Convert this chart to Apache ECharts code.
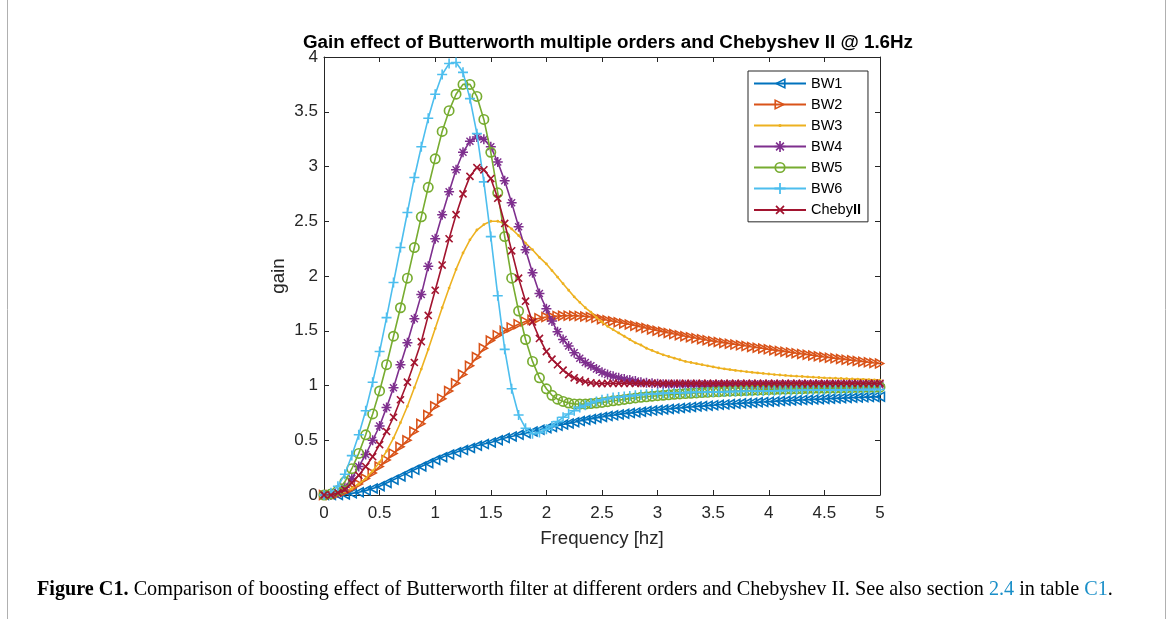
<!DOCTYPE html>
<html><head><meta charset="utf-8">
<script src="https://cdn.jsdelivr.net/npm/echarts@6/dist/echarts.min.js"></script>
<style>html,body{margin:0;padding:0;background:#fff;}#c{width:1173px;height:619px;}</style>
</head><body><div id="c"></div>
<script>
const freq = [0,0.0625,0.125,0.1875,0.25,0.3125,0.375,0.4375,0.5,0.5625,0.625,0.6875,0.75,0.8125,0.875,0.9375,1,1.0625,1.125,1.1875,1.25,1.3125,1.375,1.4375,1.5,1.5625,1.625,1.6875,1.75,1.8125,1.875,1.9375,2,
2.05,2.1,2.15,2.2,2.25,2.3,2.35,2.4,2.45,2.5,2.55,2.6,2.65,2.7,2.75,2.8,2.85,2.9,2.95,3,3.05,3.1,3.15,3.2,3.25,3.3,3.35,3.4,3.45,3.5,3.55,3.6,3.65,3.7,3.75,3.8,3.85,3.9,3.95,4,4.05,4.1,4.15,4.2,4.25,4.3,4.35,4.4,4.45,4.5,4.55,4.6,4.65,4.7,4.75,4.8,4.85,4.9,4.95,5];

const bw1 = [0,0,0,0.005,0.015,0.025,0.04,0.06,0.08,0.11,0.14,0.17,0.2,0.23,0.26,0.29,0.32,0.345,0.37,0.39,0.41,0.43,0.45,0.465,0.48,0.5,0.52,0.535,0.55,0.565,0.58,0.595,0.61,
0.62,0.632,0.643,0.654,0.665,0.675,0.685,0.695,0.704,0.713,0.721,0.728,0.735,0.742,0.748,0.754,0.76,0.766,0.771,0.776,0.781,0.786,0.791,0.795,0.8,0.804,0.808,0.812,0.816,0.82,0.824,0.827,0.831,0.834,0.837,0.84,0.843,0.846,0.849,0.852,0.855,0.858,0.86,0.863,0.865,0.868,0.87,0.873,0.875,0.877,0.88,0.882,0.884,0.886,0.888,0.89,0.892,0.894,0.896,0.898];

const bw2 = [0,0,0.01,0.03,0.06,0.1,0.15,0.2,0.26,0.32,0.38,0.44,0.5,0.58,0.65,0.73,0.81,0.88,0.95,1.02,1.1,1.18,1.26,1.34,1.41,1.46,1.5,1.53,1.56,1.585,1.6,1.615,1.625,
1.63,1.635,1.637,1.638,1.637,1.635,1.63,1.625,1.618,1.605,1.596,1.587,1.577,1.567,1.557,1.546,1.535,1.524,1.512,1.5,1.49,1.48,1.47,1.46,1.45,1.441,1.432,1.423,1.414,1.405,1.397,1.389,1.381,1.374,1.367,1.36,1.352,1.345,1.338,1.33,1.323,1.316,1.309,1.302,1.295,1.288,1.281,1.274,1.267,1.26,1.254,1.248,1.242,1.236,1.23,1.224,1.218,1.212,1.206,1.2];

const bw3 = [0,0,0.01,0.03,0.06,0.1,0.15,0.22,0.3,0.4,0.52,0.66,0.81,0.98,1.15,1.33,1.52,1.71,1.89,2.06,2.21,2.33,2.42,2.47,2.5,2.5,2.48,2.43,2.37,2.3,2.24,2.17,2.11,
2.05,1.99,1.93,1.87,1.81,1.76,1.71,1.67,1.62,1.58,1.54,1.51,1.48,1.45,1.42,1.39,1.37,1.34,1.32,1.3,1.28,1.265,1.25,1.235,1.22,1.21,1.2,1.19,1.18,1.17,1.16,1.152,1.145,1.138,1.132,1.126,1.12,1.115,1.11,1.105,1.1,1.096,1.092,1.088,1.085,1.082,1.079,1.076,1.073,1.07,1.068,1.066,1.064,1.062,1.06,1.058,1.056,1.054,1.052,1.05];

const bw4 = [0,0,0.02,0.07,0.15,0.26,0.37,0.5,0.63,0.8,0.98,1.19,1.39,1.61,1.83,2.09,2.34,2.56,2.77,2.97,3.13,3.23,3.27,3.25,3.18,3.04,2.87,2.67,2.45,2.24,2.03,1.84,1.7,
1.59,1.49,1.42,1.36,1.3,1.25,1.21,1.18,1.15,1.12,1.1,1.085,1.07,1.06,1.05,1.04,1.03,1.025,1.02,1.015,1.012,1.01,1.009,1.008,1.007,1.006,1.006,1.005,1.005,1.005,1.005,1.005,1.005,1.005,1.005,1.005,1.005,1.005,1.005,1.005,1.005,1.005,1.005,1.005,1.005,1.005,1.005,1.005,1.005,1.005,1.005,1.005,1.005,1.005,1.005,1.005,1.005,1.005,1.005,1.005];

const bw5 = [0,0.01,0.04,0.12,0.24,0.38,0.55,0.74,0.95,1.19,1.45,1.71,1.98,2.26,2.54,2.81,3.07,3.32,3.51,3.66,3.75,3.75,3.64,3.43,3.13,2.76,2.36,1.98,1.68,1.42,1.22,1.07,0.97,
0.91,0.875,0.855,0.84,0.832,0.83,0.83,0.835,0.84,0.845,0.852,0.86,0.866,0.873,0.88,0.886,0.892,0.897,0.902,0.907,0.911,0.915,0.919,0.923,0.926,0.929,0.932,0.935,0.938,0.941,0.943,0.946,0.948,0.95,0.952,0.954,0.956,0.958,0.96,0.962,0.963,0.965,0.966,0.968,0.969,0.97,0.972,0.973,0.974,0.975,0.976,0.977,0.978,0.979,0.98,0.981,0.982,0.983,0.984,0.985];

const bw6 = [0,0.02,0.08,0.19,0.36,0.55,0.77,1.03,1.31,1.62,1.94,2.26,2.58,2.9,3.18,3.44,3.66,3.84,3.94,3.95,3.86,3.62,3.3,2.86,2.36,1.82,1.33,0.97,0.73,0.61,0.56,0.57,0.6,
0.63,0.67,0.71,0.74,0.77,0.8,0.82,0.84,0.855,0.87,0.88,0.89,0.895,0.9,0.905,0.91,0.915,0.92,0.923,0.926,0.928,0.93,0.932,0.934,0.935,0.937,0.938,0.939,0.94,0.941,0.942,0.943,0.944,0.945,0.946,0.947,0.948,0.949,0.95,0.951,0.952,0.953,0.954,0.954,0.955,0.956,0.956,0.957,0.958,0.958,0.959,0.959,0.96,0.96,0.961,0.961,0.962,0.962,0.963,0.963];

const cheby2 = [0,0,0.02,0.05,0.11,0.18,0.26,0.35,0.46,0.58,0.71,0.87,1.03,1.21,1.4,1.64,1.87,2.1,2.34,2.56,2.75,2.91,2.99,2.97,2.89,2.71,2.48,2.23,1.98,1.77,1.58,1.43,1.31,
1.24,1.19,1.14,1.1,1.07,1.05,1.035,1.025,1.02,1.018,1.019,1.02,1.02,1.02,1.02,1.02,1.02,1.02,1.02,1.02,1.02,1.02,1.02,1.02,1.02,1.02,1.02,1.02,1.02,1.02,1.02,1.02,1.02,1.02,1.02,1.02,1.02,1.02,1.02,1.02,1.02,1.02,1.02,1.02,1.02,1.02,1.02,1.02,1.02,1.02,1.02,1.02,1.02,1.02,1.02,1.02,1.02,1.02,1.02,1.02];

const seriesNames = ['BW1','BW2','BW3','BW4','BW5','BW6','ChebyII'];
const seriesValues = [bw1,bw2,bw3,bw4,bw5,bw6,cheby2];
const colors = ['#0072BD','#D95319','#EDB120','#7E2F8E','#77AC30','#4DBEEE','#A2142F'];

const TRI_LEFT = 'path://M0,5L10,0L10,10Z M3.12,5L8.5,7.69L8.5,2.31Z';
const TRI_RIGHT = 'path://M10,5L0,0L0,10Z M6.88,5L1.5,7.69L1.5,2.31Z';
const DOT = 'path://M0,0L0,0Z M10,10L10,10Z M3.6,5A1.4,1.4 0 1,1 6.4,5A1.4,1.4 0 1,1 3.6,5Z';
const RING = 'path://M0,5A5,5 0 1,1 10,5A5,5 0 1,1 0,5Z M1.5,5A3.5,3.5 0 1,0 8.5,5A3.5,3.5 0 1,0 1.5,5Z';
const PLUS = 'path://M4.2,0H5.8V4.2H10V5.8H5.8V10H4.2V5.8H0V4.2H4.2Z';
const STAR = 'path://M4.25,0H5.75V4.25H10V5.75H5.75V10H4.25V5.75H0V4.25H4.25Z M2,1L9,8L8,9L1,2Z M8,1L9,2L2,9L1,8Z';
const symbols = [TRI_LEFT, TRI_RIGHT, DOT, STAR, RING, PLUS, PLUS];
const symbolSizes = [[10.5,11.5],[10.5,11.5],10,10,11,10,10];
const symbolRot = [0,0,0,0,0,0,45];

function pairs(v){ return freq.map((f,i)=>[f, v[i]]); }

const axisColor = '#262626';
const chart = echarts.init(document.getElementById('c'));
chart.setOption({
  animation: false,
  backgroundColor: '#fff',
  textStyle: {fontFamily: 'Liberation Sans, Arial, sans-serif'},
  title: {
    text: 'Gain effect of Butterworth multiple orders and Chebyshev II @ 1.6Hz',
    left: 603, top: 28, textAlign: 'center',
    textStyle: {fontSize: 18.8, fontWeight: 'bold', color: '#000', fontFamily: 'Liberation Sans, Arial, sans-serif'}
  },
  grid: {left: 324, right: 293, top: 57, bottom: 124, containLabel: false},
  xAxis: [{
    type: 'value', min: 0, max: 5, interval: 0.5, position: 'bottom',
    axisLine: {show: true, onZero: false, lineStyle: {color: axisColor, width: 1}},
    axisTick: {show: true, inside: true, length: 5, lineStyle: {color: axisColor}},
    axisLabel: {color: axisColor, fontSize: 17, margin: 10},
    splitLine: {show: false},
    name: 'Frequency [hz]', nameLocation: 'middle', nameGap: 34,
    nameTextStyle: {fontSize: 18.7, color: axisColor}
  }, {
    type: 'value', min: 0, max: 5, interval: 0.5, position: 'top',
    axisLine: {show: true, onZero: false, lineStyle: {color: axisColor, width: 1}},
    axisTick: {show: true, inside: true, length: 5, lineStyle: {color: axisColor}},
    axisLabel: {show: false}, splitLine: {show: false}
  }],
  yAxis: [{
    type: 'value', min: 0, max: 4, interval: 0.5, position: 'left',
    axisLine: {show: true, onZero: false, lineStyle: {color: axisColor, width: 1}},
    axisTick: {show: true, inside: true, length: 5, lineStyle: {color: axisColor}},
    axisLabel: {color: axisColor, fontSize: 17, margin: 6},
    splitLine: {show: false},
    name: 'gain', nameLocation: 'middle', nameGap: 36,
    nameTextStyle: {fontSize: 18.7, color: axisColor}
  }, {
    type: 'value', min: 0, max: 4, interval: 0.5, position: 'right',
    axisLine: {show: true, onZero: false, lineStyle: {color: axisColor, width: 1}},
    axisTick: {show: true, inside: true, length: 5, lineStyle: {color: axisColor}},
    axisLabel: {show: false}, splitLine: {show: false}
  }],
  legend: {
    orient: 'vertical', left: 748, top: 71,
    data: seriesNames,
    itemWidth: 52, itemHeight: 14, itemGap: 6,
    padding: [5, 7, 4, 5],
    borderColor: axisColor, borderWidth: 1, backgroundColor: '#fff',
    textStyle: {fontSize: 14.5, color: '#000', lineHeight: 13,
      rich: {n: {fontSize: 14.5, color: '#000', lineHeight: 13}, b: {fontSize: 14.5, fontWeight: 'bold', color: '#000', lineHeight: 13}}},
    formatter: function(name){ return name === 'ChebyII' ? '{n|Cheby}{b|II}' : name; }
  },
  series: seriesNames.map((name, i) => ({
    name: name, type: 'line',
    data: pairs(seriesValues[i]),
    symbol: symbols[i], symbolSize: symbolSizes[i], symbolRotate: symbolRot[i],
    showAllSymbol: true, showSymbol: true,
    lineStyle: {color: colors[i], width: 1.6},
    itemStyle: {color: colors[i]},
    emphasis: {disabled: true},
    z: 2 + i
  })),
  graphic: [
    {type: 'line', shape: {x1: 7.5, y1: 0, x2: 7.5, y2: 619}, style: {stroke: '#b0b0b0', lineWidth: 1}},
    {type: 'line', shape: {x1: 1165.5, y1: 0, x2: 1165.5, y2: 619}, style: {stroke: '#b0b0b0', lineWidth: 1}},
    {type: 'text', left: 37, top: 580,
      style: {
        text: '{b|Figure C1.} Comparison of boosting effect of Butterworth filter at different orders and Chebyshev II. See also section {l|2.4} in table {l|C1}.',
        font: '20.2px "Liberation Serif", serif', fill: '#000',
        rich: {
          b: {fontWeight: 'bold', fontSize: 20.2, fontFamily: 'Liberation Serif', fill: '#000'},
          l: {fontSize: 20.2, fontFamily: 'Liberation Serif', fill: '#1a8fc8'}
        }
      }
    }
  ]
});
</script></body></html>
